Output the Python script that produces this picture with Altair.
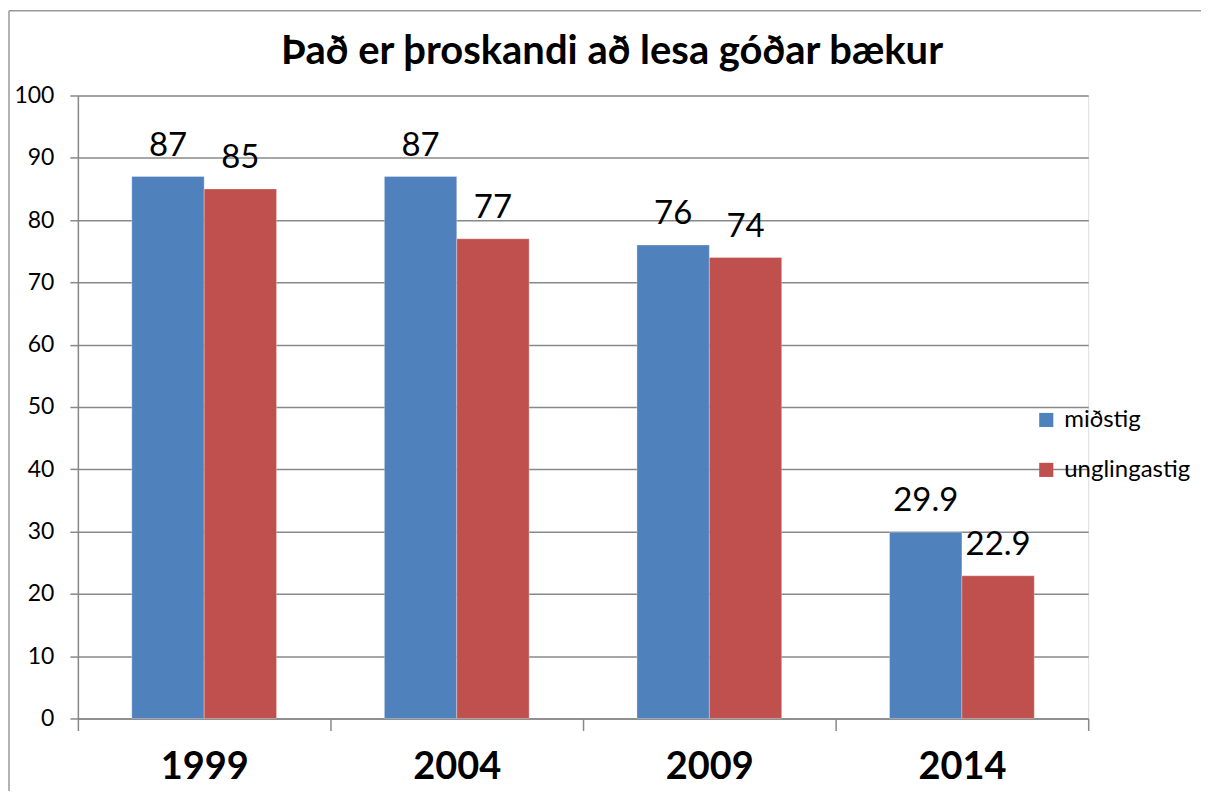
import altair as alt
import pandas as pd

years = ["1999", "2004", "2009", "2014"]
series = ["miðstig", "unglingastig"]
midstig = [87, 87, 76, 29.9]
unglingastig = [85, 77, 74, 22.9]
colors = ["#4F81BD", "#C0504D"]
title_text = "Það er þroskandi að lesa góðar bækur"

rows = []
for i, y in enumerate(years):
    rows.append({"ár": y, "stig": series[0], "gildi": midstig[i]})
    rows.append({"ár": y, "stig": series[1], "gildi": unglingastig[i]})
df = pd.DataFrame(rows)

FONT = "Lato"
W, H = 1012, 624

x_enc = alt.X(
    "ár:N",
    sort=years,
    scale=alt.Scale(paddingInner=0, paddingOuter=0),
    axis=alt.Axis(
        title=None,
        labelAngle=0,
        labelFont=FONT,
        labelFontSize=38,
        labelFontWeight="bold",
        labelColor="black",
        labelPadding=18,
        tickBand="extent",
        tickSize=12,
        tickColor="#888888",
        tickWidth=1.5,
        domainColor="#888888",
        domainWidth=1.5,
        grid=False,
    ),
)
xoff = alt.XOffset("stig:N", sort=series, scale=alt.Scale(paddingInner=0, paddingOuter=0.745))
y_enc = alt.Y(
    "gildi:Q",
    scale=alt.Scale(domain=[0, 100], nice=False),
    axis=alt.Axis(
        title=None,
        values=list(range(0, 101, 10)),
        labelFont=FONT,
        labelFontSize=23,
        labelColor="black",
        labelPadding=16,
        tickSize=8,
        tickColor="#888888",
        tickWidth=1.5,
        domainColor="#888888",
        domainWidth=1.5,
        gridColor="#888888",
        gridWidth=1.5,
    ),
)

bars = alt.Chart(df).mark_bar(stroke="white", strokeWidth=0.5, strokeOpacity=0.6).encode(
    x=x_enc,
    xOffset=xoff,
    y=y_enc,
    color=alt.Color(
        "stig:N",
        sort=series,
        scale=alt.Scale(domain=series, range=colors),
        legend=alt.Legend(
            title=None,
            orient="none",
            legendX=958,
            legendY=313,
            symbolType="square",
            symbolSize=200,
            symbolStrokeWidth=0,
            labelFont=FONT,
            labelFontSize=24,
            labelColor="black",
            labelOffset=6,
            rowPadding=26,
        ),
    ),
)

labels = alt.Chart(df).mark_text(
    font=FONT, fontSize=33, color="black", baseline="alphabetic", dy=-21
).encode(
    x=alt.X("ár:N", sort=years),
    xOffset=xoff,
    y=alt.Y("gildi:Q"),
    text=alt.Text("gildi:Q"),
)

frame_df = pd.DataFrame({"k": [0]})
left_border = alt.Chart(frame_df).mark_rule(color="#999999", strokeWidth=1.5).encode(
    x=alt.value(-69), y=alt.value(-85), y2=alt.value(730)
)
top_border = alt.Chart(frame_df).mark_rule(color="#999999", strokeWidth=1.5).encode(
    x=alt.value(-69), x2=alt.value(1125), y=alt.value(-85)
)

chart = (
    alt.layer(bars, labels, left_border, top_border)
    .properties(
        width=W,
        height=H,
        title=alt.TitleParams(
            title_text,
            font=FONT,
            fontSize=40,
            fontWeight="bold",
            color="black",
            anchor="middle",
            frame="group",
            dx=29,
            offset=-62,
        ),
        autosize=alt.AutoSizeParams(type="none"),
        padding={"left": 70, "top": 87, "right": 118, "bottom": 72},
    )
    .configure_view(stroke=None)
    .configure(background="white")
)

chart.save("out.html", embed_options={"renderer": "svg", "actions": False})
